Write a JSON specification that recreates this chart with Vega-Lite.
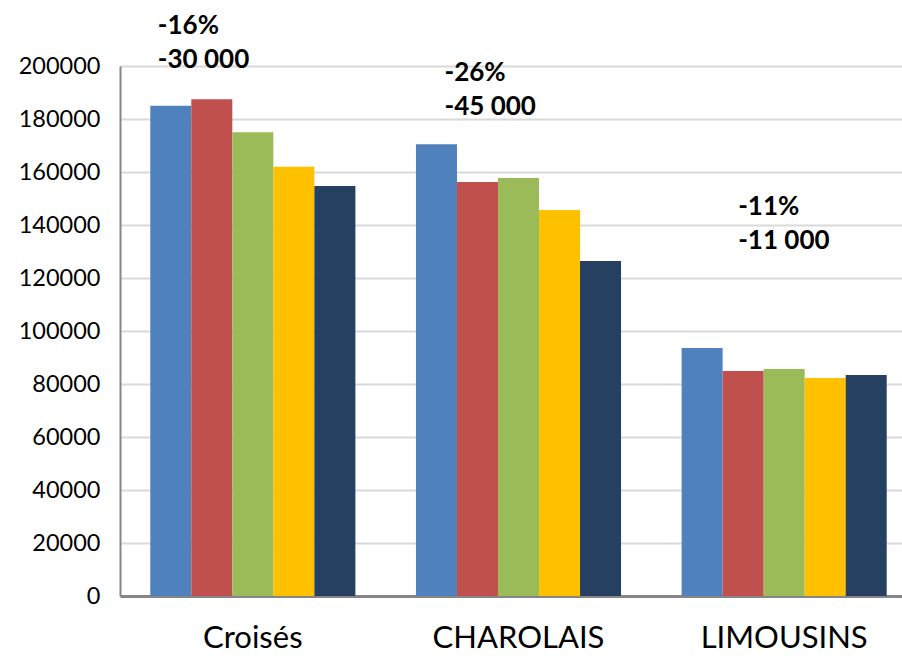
{
  "$schema": "https://vega.github.io/schema/vega-lite/v6.json",
  "width": 797,
  "height": 530,
  "autosize": {"type": "none"},
  "padding": {"left": 120, "top": 66, "right": 0, "bottom": 60},
  "background": "white",
  "config": {"view": {"stroke": null}, "font": "Lato"},
  "datasets": {
    "bars": [
      {"group": "Croisés", "series": "S1", "value": 185000},
      {"group": "Croisés", "series": "S2", "value": 187500},
      {"group": "Croisés", "series": "S3", "value": 175000},
      {"group": "Croisés", "series": "S4", "value": 162000},
      {"group": "Croisés", "series": "S5", "value": 154700},
      {"group": "CHAROLAIS", "series": "S1", "value": 170500},
      {"group": "CHAROLAIS", "series": "S2", "value": 156200},
      {"group": "CHAROLAIS", "series": "S3", "value": 157700},
      {"group": "CHAROLAIS", "series": "S4", "value": 145700},
      {"group": "CHAROLAIS", "series": "S5", "value": 126400},
      {"group": "LIMOUSINS", "series": "S1", "value": 93600},
      {"group": "LIMOUSINS", "series": "S2", "value": 84900},
      {"group": "LIMOUSINS", "series": "S3", "value": 85700},
      {"group": "LIMOUSINS", "series": "S4", "value": 82300},
      {"group": "LIMOUSINS", "series": "S5", "value": 83400}
    ],
    "notes": [
      {"group": "Croisés", "label": "-16%\n-30 000", "labelY": 219900},
      {"group": "CHAROLAIS", "label": "-26%\n-45 000", "labelY": 202300},
      {"group": "LIMOUSINS", "label": "-11%\n-11 000", "labelY": 151700}
    ]
  },
  "encoding": {
    "x": {
      "field": "group",
      "type": "nominal",
      "sort": ["Croisés", "CHAROLAIS", "LIMOUSINS"],
      "scale": {"paddingInner": 0.228, "paddingOuter": 0.114},
      "axis": {
        "title": null,
        "labelAngle": 0,
        "ticks": false,
        "labelFontSize": 31,
        "labelColor": "#000000",
        "labelPadding": 27,
        "domainColor": "#868686",
        "domainWidth": 3
      }
    }
  },
  "layer": [
    {
      "data": {"name": "bars"},
      "mark": {"type": "bar"},
      "encoding": {
        "xOffset": {
          "field": "series",
          "type": "nominal",
          "scale": {"paddingInner": 0, "paddingOuter": 0}
        },
        "y": {
          "field": "value",
          "type": "quantitative",
          "scale": {"domain": [0, 200000], "nice": false},
          "axis": {
            "title": null,
            "values": [0, 20000, 40000, 60000, 80000, 100000, 120000, 140000, 160000, 180000, 200000],
            "format": "d",
            "labelFontSize": 23.5,
            "labelColor": "#000000",
            "labelPadding": 20,
            "ticks": false,
            "domainColor": "#868686",
            "domainWidth": 2,
            "gridColor": "#D9D9D9",
            "gridWidth": 2
          }
        },
        "color": {
          "field": "series",
          "type": "nominal",
          "scale": {"domain": ["S1", "S2", "S3", "S4", "S5"], "range": ["#4F81BD", "#C0504D", "#9BBB59", "#FFC000", "#254061"]},
          "legend": null
        }
      }
    },
    {
      "data": {"name": "notes"},
      "transform": [{"filter": "datum.group === 'Croisés'"}],
      "mark": {"type": "text", "align": "left", "baseline": "top", "dx": -95, "fontSize": 26, "fontWeight": "bold", "lineBreak": "\n", "lineHeight": 34, "color": "#000000"},
      "encoding": {
        "y": {"field": "labelY", "type": "quantitative"},
        "text": {"field": "label"}
      }
    },
    {
      "data": {"name": "notes"},
      "transform": [{"filter": "datum.group === 'CHAROLAIS'"}],
      "mark": {"type": "text", "align": "left", "baseline": "top", "dx": -74, "fontSize": 26, "fontWeight": "bold", "lineBreak": "\n", "lineHeight": 34, "color": "#000000"},
      "encoding": {
        "y": {"field": "labelY", "type": "quantitative"},
        "text": {"field": "label"}
      }
    },
    {
      "data": {"name": "notes"},
      "transform": [{"filter": "datum.group === 'LIMOUSINS'"}],
      "mark": {"type": "text", "align": "left", "baseline": "top", "dx": -46, "fontSize": 26, "fontWeight": "bold", "lineBreak": "\n", "lineHeight": 34, "color": "#000000"},
      "encoding": {
        "y": {"field": "labelY", "type": "quantitative"},
        "text": {"field": "label"}
      }
    }
  ]
}
